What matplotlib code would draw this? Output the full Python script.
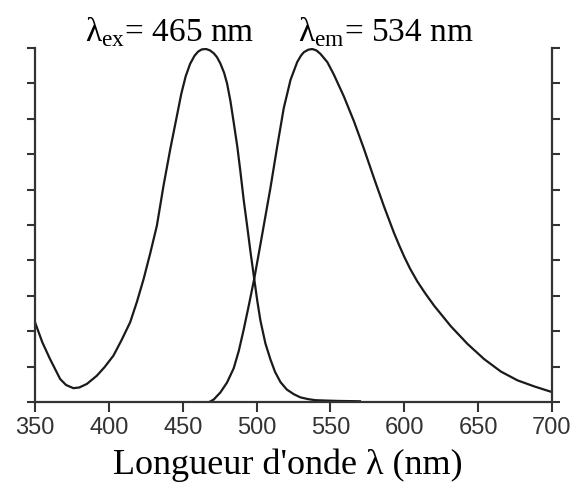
import matplotlib.pyplot as plt

plt.rcParams['mathtext.fontset'] = 'custom'
plt.rcParams['mathtext.rm'] = 'Liberation Serif'

# Excitation spectrum (wavelength nm, relative intensity)
ex_wl = [350, 355, 360.2, 367, 371, 376, 380, 385.1, 391.8, 397, 403.1, 408.5,
         414.4, 419, 423.5, 428, 432.5, 437, 441.6, 446.1, 449, 452, 455,
         458, 460.5, 463, 465.8, 468.5, 471, 473.2, 475.5, 478, 480, 482.3,
         484.5, 487, 489.1, 491.3, 493.6, 496, 498.5, 500.5, 502.6, 506,
         509.4, 512.5, 516.2, 520.5, 525.2, 529.7, 535, 540, 547, 555, 570]
ex_int = [2.25, 1.68, 1.21, 0.65, 0.48, 0.39, 0.41, 0.51, 0.74, 0.98, 1.31, 1.74,
          2.25, 2.83, 3.47, 4.2, 4.98, 6.11, 7.15, 8.09, 8.7, 9.2, 9.55,
          9.78, 9.9, 9.96, 9.97, 9.93, 9.85, 9.74, 9.56, 9.3, 9.0, 8.5,
          7.9, 7.2, 6.49, 5.7, 4.98, 4.2, 3.45, 2.85, 2.3, 1.65,
          1.2, 0.85, 0.56, 0.35, 0.22, 0.13, 0.08, 0.05, 0.04, 0.03, 0.02]

# Emission spectrum
em_wl = [468, 471, 475.5, 480, 484.5, 488, 491.3, 495, 498.5, 502.6, 506,
         509.4, 513.9, 518.4, 523, 527.5, 530, 532, 535, 537.7, 540.5, 543.3,
         547.9, 552.3, 559.1, 566, 572.7, 579.5, 586.3, 593, 596.5, 600, 604,
         608.9, 614, 620.2, 631.5, 642.8, 654.1, 665.4, 676.7, 688, 700]
em_int = [0.0, 0.07, 0.27, 0.55, 0.95, 1.45, 2.05, 2.78, 3.5, 4.45, 5.25,
          6.05, 7.2, 8.3, 9.1, 9.6, 9.78, 9.88, 9.95, 9.97, 9.93, 9.83,
          9.6, 9.25, 8.63, 7.92, 7.15, 6.32, 5.52, 4.78, 4.43, 4.1, 3.76,
          3.4, 3.08, 2.72, 2.14, 1.64, 1.21, 0.86, 0.61, 0.44, 0.28]

x_ticks = [350, 400, 450, 500, 550, 600, 650, 700]

fig = plt.figure(figsize=(5.76, 4.89), dpi=100)
ax = fig.add_axes([0.0608, 0.1759, 0.8975, 0.724])

ax.plot(ex_wl, ex_int, color='#1a1a1a', lw=1.6)
ax.plot(em_wl, em_int, color='#1a1a1a', lw=1.6)

ax.set_xlim(350, 700)
ax.set_ylim(0, 10)
ax.set_xticks(x_ticks)
ax.set_yticks(range(11))
ax.set_yticklabels([])

ax.spines['top'].set_visible(False)
for s in ['left', 'right', 'bottom']:
    ax.spines[s].set_linewidth(1.6)
    ax.spines[s].set_color('#333333')

ax.tick_params(axis='y', which='both', left=True, right=True, direction='out',
               length=6, width=1.5, color='#333333')
ax.tick_params(axis='x', direction='out', length=7, width=1.5, color='#333333',
               labelsize=17, labelcolor='#333333', pad=3)
for lab in ax.get_xticklabels():
    lab.set_family('Liberation Sans')

fig.text(0.499, 0.031, "Longueur d'onde λ (nm)", family='Liberation Serif',
         fontsize=26, ha='center', va='baseline')

fig.text(0.147, 0.9147, "λ$_{\\mathrm{ex}}$= 465 nm", family='Liberation Serif',
         fontsize=24, ha='left', va='baseline')
fig.text(0.518, 0.9147, "λ$_{\\mathrm{em}}$= 534 nm", family='Liberation Serif',
         fontsize=24, ha='left', va='baseline')

fig.savefig('out.png', dpi=100)
